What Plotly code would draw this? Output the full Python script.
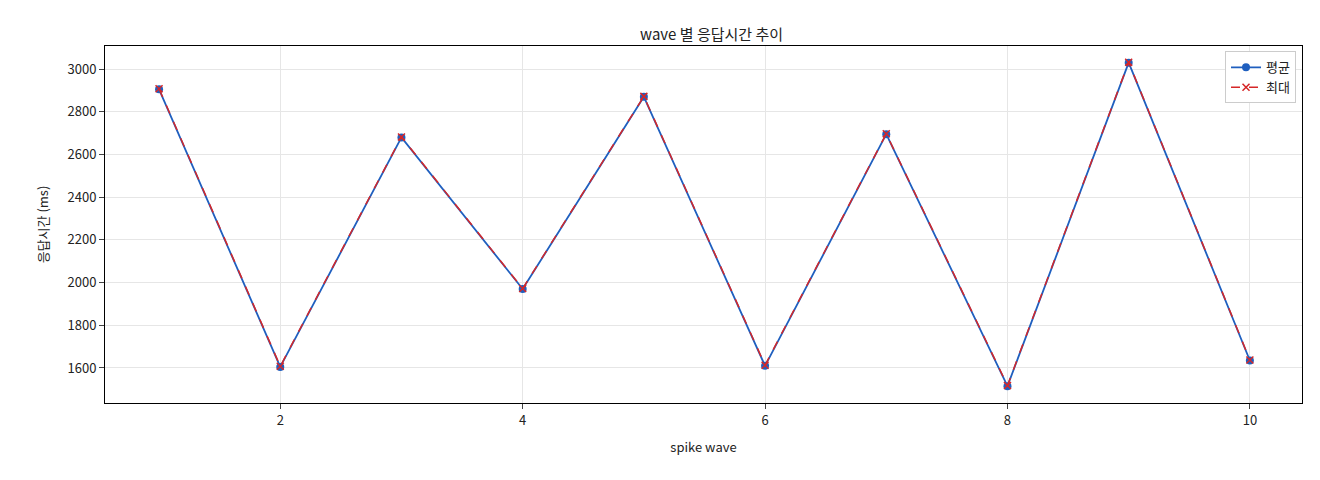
import plotly.graph_objects as go

waves = [1, 2, 3, 4, 5, 6, 7, 8, 9, 10]
avg_ms = [2905, 1605, 2680, 1970, 2870, 1610, 2695, 1515, 3030, 1635]
max_ms = [2908, 1608, 2682, 1972, 2872, 1613, 2697, 1518, 3032, 1637]

fig = go.Figure()
fig.add_trace(go.Scatter(x=waves, y=avg_ms, name="평균", mode="lines+markers",
                         line=dict(color="#1f5fbf", width=1.8),
                         marker=dict(symbol="circle", size=8, color="#1f5fbf")))
fig.add_trace(go.Scatter(x=waves, y=max_ms, name="최대", mode="lines+markers",
                         line=dict(color="#d62728", width=1.5, dash="dash"),
                         marker=dict(symbol="x-thin", size=7, line=dict(color="#d62728", width=1.5))))
fig.update_layout(
    width=1320, height=480, paper_bgcolor="white", plot_bgcolor="white",
    font=dict(family="Noto Sans CJK KR, DejaVu Sans", size=13, color="#222"),
    title=dict(text="wave 별 응답시간 추이", x=0.533, xanchor="center", y=0.955, font=dict(size=15)),
    margin=dict(l=97, r=26, t=38, b=85),
    legend=dict(x=0.995, y=0.985, xanchor="right", yanchor="top", bordercolor="#ccc",
                borderwidth=1, bgcolor="white", font=dict(size=13)),
    xaxis=dict(title=dict(text="spike wave", font=dict(size=13)), range=[0.554, 10.43],
               tickvals=[2, 4, 6, 8, 10],
               showgrid=True, gridcolor="#e6e6e6", showline=True, linecolor="black",
               mirror=True, ticks="outside", zeroline=False),
    yaxis=dict(title=dict(text="응답시간 (ms)", font=dict(size=13)), range=[1436, 3108], dtick=200,
               showgrid=True, gridcolor="#e6e6e6", showline=True, linecolor="black",
               mirror=True, ticks="outside", zeroline=False),
)
fig.write_html("out.html")
